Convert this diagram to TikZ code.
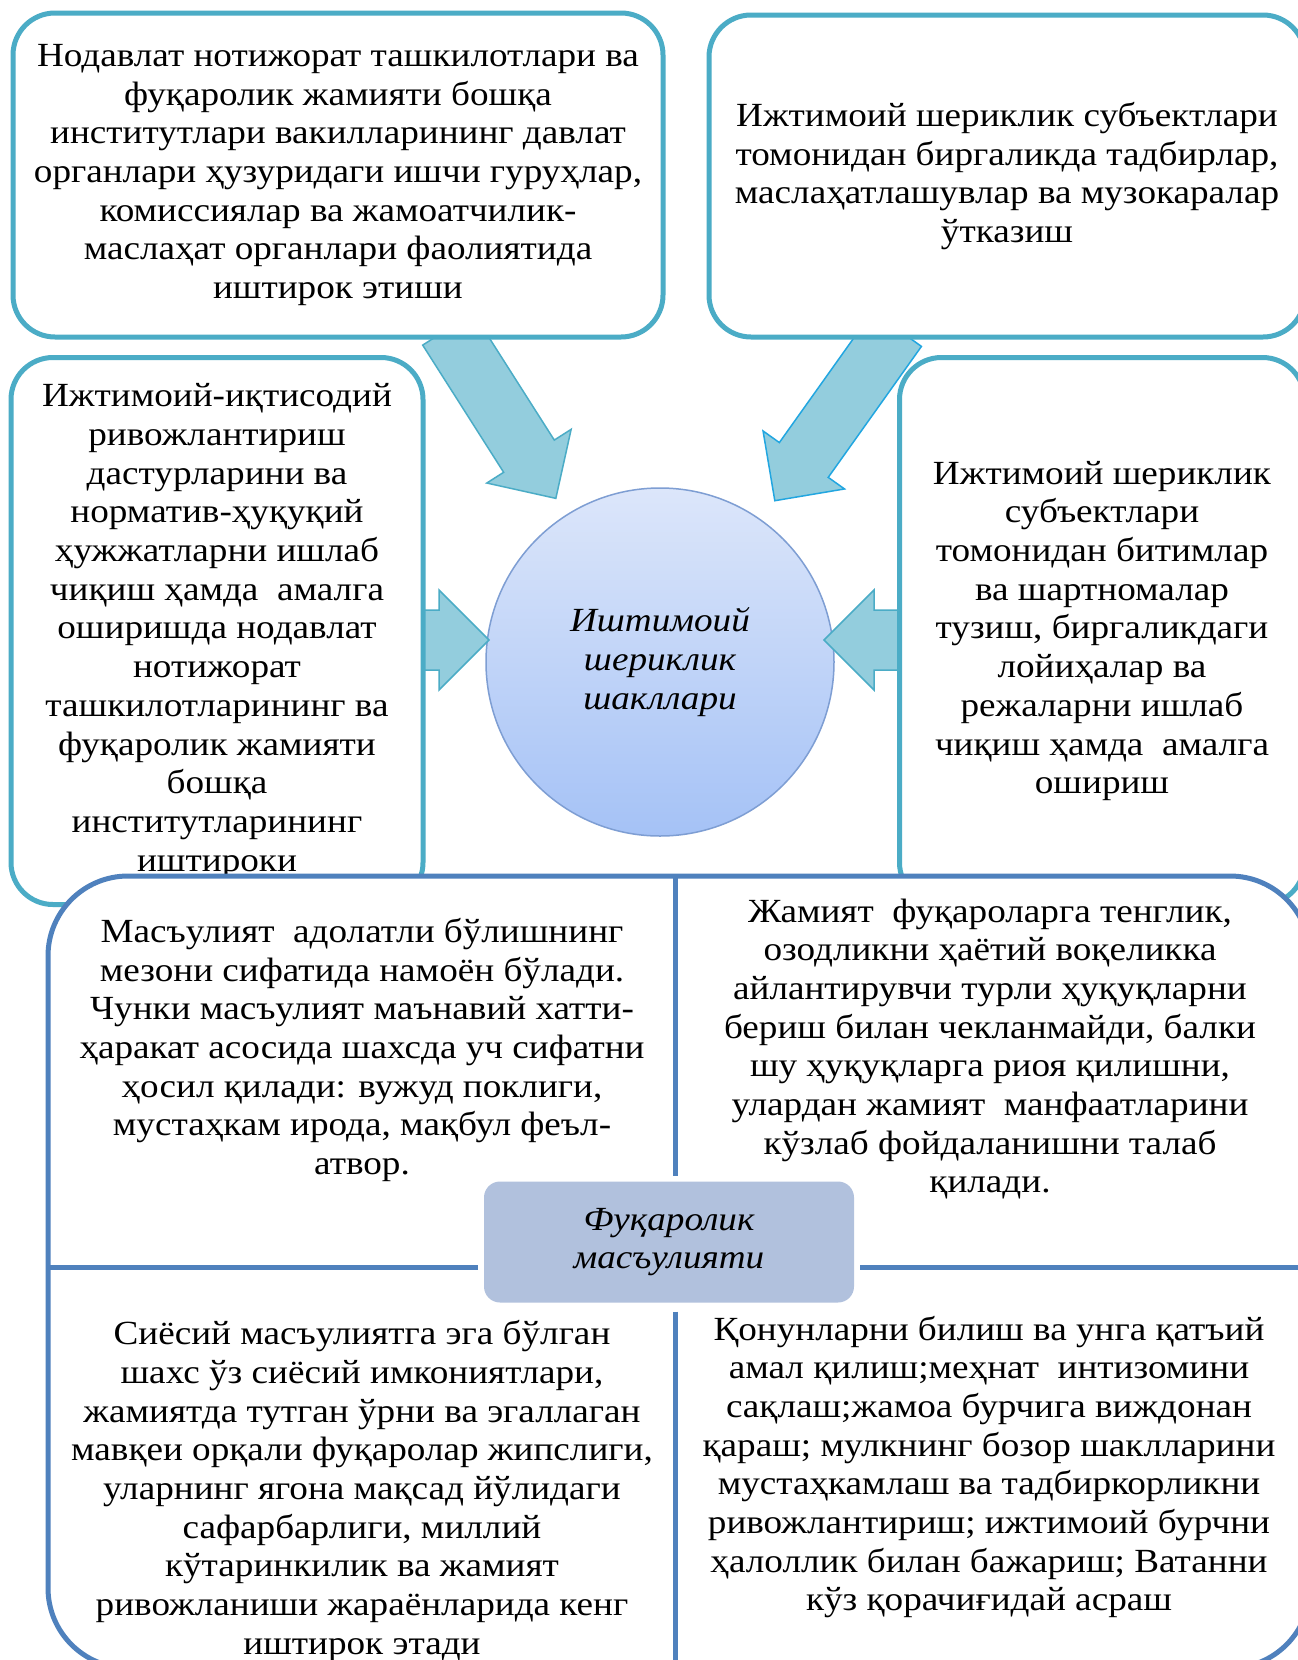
\documentclass[tikz,border=0pt]{standalone}
\usepackage{fontspec}
\setmainfont[FakeStretch=1.1]{Liberation Serif}
\usepackage{tikz}
\usetikzlibrary{calc}
\usetikzlibrary{backgrounds}
\definecolor{tealline}{HTML}{4BACC6}
\definecolor{arrowfill}{HTML}{93CDDD}
\definecolor{arrowline}{HTML}{4BACC6}
\definecolor{brightline}{HTML}{22A6E0}
\definecolor{circtop}{HTML}{DCE6FA}
\definecolor{circbot}{HTML}{A5C2F6}
\definecolor{circline}{HTML}{7E9ED3}
\definecolor{matline}{HTML}{4F81BD}
\definecolor{labfill}{HTML}{B1C1DD}

\begin{document}
\begin{tikzpicture}[
	x = 1pt, y = -1pt,
	txt/.style={align=center, inner sep=0pt, font=\fontsize{33.8pt}{38.7pt}\selectfont},
	formbox/.style={txt, draw=tealline, line width=5pt, fill=white, rounded corners=42pt, outer sep=0pt},
	hub/.style={circle, draw=circline, line width=1.5pt, top color=circtop, bottom color=circbot, minimum size=348pt, inner sep=0pt, outer sep=0pt, align=center, font=\fontsize{33.8pt}{38.7pt}\selectfont\itshape},
	blockarrow/.style={fill=arrowfill, line width=1.5pt, line join=miter},
	matrixbox/.style={draw=matline, line width=5pt, fill=white, rounded corners=80pt, inner sep=0pt, outer sep=0pt},
	divider/.style={matline, line width=5pt},
	headbox/.style={fill=labfill, rounded corners=16pt, minimum width=370pt, minimum height=121pt, inner sep=0pt, outer sep=0pt, align=center, font=\fontsize{33.8pt}{38.7pt}\selectfont\itshape},
	]
	\useasboundingbox (0,0) rectangle (1298,1660);
	\clip (0,0) rectangle (1298,1660);

	\node (tl) [formbox, minimum width=650pt, minimum height=324pt] at (338,175) {Нодавлат нотижорат ташкилотлари ва\\фуқаролик жамияти бошқа\\институтлари вакилларининг давлат\\органлари ҳузуридаги ишчи гуруҳлар,\\комиссиялар ва жамоатчилик-\\маслаҳат органлари фаолиятида\\иштирок этиши};
	\node (tr) [formbox, minimum width=596pt, minimum height=322pt] at (1007,176) {Ижтимоий шериклик субъектлари\\томонидан биргаликда тадбирлар,\\маслаҳатлашувлар ва музокаралар\\ўтказиш};
	\node (ml) [formbox, minimum width=412pt, minimum height=547pt] at (217,631) {Ижтимоий-иқтисодий\\ривожлантириш\\дастурларини ва\\норматив-ҳуқуқий\\ҳужжатларни ишлаб\\чиқиш ҳамда~ амалга\\оширишда нодавлат\\нотижорат\\ташкилотларининг ва\\фуқаролик жамияти\\бошқа\\институтларининг\\иштироки};
	\node (mr) [formbox, minimum width=405pt, minimum height=547pt] at (1102,631) {Ижтимоий шериклик\\субъектлари\\томонидан битимлар\\ва шартномалар\\тузиш, биргаликдаги\\лойиҳалар ва\\режаларни ишлаб\\чиқиш ҳамда~ амалга\\ошириш};

	\begin{scope}[on background layer]
	\fill[white] (0,0) rectangle (1298,1660);
	\node (circ) [hub] at (660,662) {Иштимоий\\шериклик\\шакллари};
	\coordinate (s1) at ($(tl.south)+(110,-8)$);
	\coordinate (s2) at ($(tr.south)+(-110,-8)$);
	\coordinate (s3) at ($(ml.east)+(-8,9)$);
	\coordinate (s4) at ($(mr.west)+(8,9)$);
	\coordinate (t1) at ($(circ.center)!194pt!(s1)$);
	\coordinate (t2) at ($(circ.center)!198pt!(s2)$);
	\coordinate (t3) at ($(s3 -| circ.west)+(3,0)$);
	\coordinate (t4) at ($(s4 -| circ.east)+(-10,0)$);
	\foreach \s/\t/\c in {s1/t1/arrowline, s2/t2/brightline, s3/t3/arrowline, s4/t4/arrowline}{
		\coordinate (hb) at ($(\t)!50pt!(\s)$);
		\draw[blockarrow, draw=\c] ($(\s)!30pt!90:(\t)$) -- ($(hb)!30pt!90:(\t)$) -- ($(hb)!50pt!90:(\t)$) -- (\t)
			-- ($(hb)!50pt!-90:(\t)$) -- ($(hb)!30pt!-90:(\t)$) -- ($(\s)!30pt!-90:(\t)$) -- cycle;
	}
	\end{scope}

	\node (bot) [matrixbox, minimum width=1262pt, minimum height=792pt] at (679,1272) {};
	\node (lab) [headbox] at (669,1242) {Фуқаролик\\масъулияти};
	\coordinate (cross) at (675,1267);
	\draw[divider] (cross |- bot.north) -- ($(cross |- lab.north)+(0,-6)$);
	\draw[divider] ($(cross |- lab.south)+(0,9)$) -- (cross |- bot.south);
	\draw[divider] (bot.west |- cross) -- ($(lab.west |- cross)+(-6,0)$);
	\draw[divider] ($(lab.east |- cross)+(6,0)$) -- (bot.east |- cross);

	\node (qa) [txt] at (362,1050) {Масъулият~ адолатли бўлишнинг\\мезони сифатида намоён бўлади.\\Чунки масъулият маънавий хатти-\\ҳаракат асосида шахсда уч сифатни\\ҳосил қилади: вужуд поклиги,\\мустаҳкам ирода, мақбул феъл-\\атвор.};
	\node (qb) [txt] at (990,1049) {Жамият~ фуқароларга тенглик,\\озодликни ҳаётий воқеликка\\айлантирувчи турли ҳуқуқларни\\бериш билан чекланмайди, балки\\шу ҳуқуқларга риоя қилишни,\\улардан жамият~ манфаатларини\\кўзлаб фойдаланишни талаб\\қилади.};
	\node (qc) [txt] at (362,1491) {Сиёсий масъулиятга эга бўлган\\шахс ўз сиёсий имкониятлари,\\жамиятда тутган ўрни ва эгаллаган\\мавқеи орқали фуқаролар жипслиги,\\уларнинг ягона мақсад йўлидаги\\сафарбарлиги, миллий\\кўтаринкилик ва жамият\\ривожланиши жараёнларида кенг\\иштирок этади};
	\node (qd) [txt] at (989,1467) {Қонунларни билиш ва унга қатъий\\амал қилиш;меҳнат~ интизомини\\сақлаш;жамоа бурчига виждонан\\қараш; мулкнинг бозор шаклларини\\мустаҳкамлаш ва тадбиркорликни\\ривожлантириш; ижтимоий бурчни\\ҳалоллик билан бажариш; Ватанни\\кўз қорачиғидай асраш};
\end{tikzpicture}
\end{document}
